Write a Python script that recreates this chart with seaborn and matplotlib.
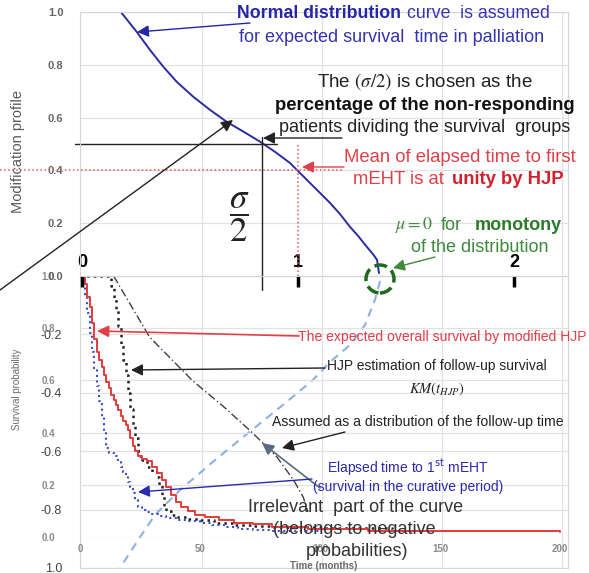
import numpy as np
import matplotlib
matplotlib.use("Agg")
import matplotlib.pyplot as plt
from matplotlib.patches import Ellipse, FancyArrowPatch
import seaborn as sns

sns.set_style("whitegrid")
plt.rcParams["font.family"] = ["Liberation Sans", "DejaVu Sans"]

W, H = 589, 573

# =======================================================================
# DATA
# =======================================================================
# top chart: modification profile, x in units of the mean (1 unit ~ 90 months)
MONTHS_PER_UNIT = 90
normal_x = [0.18, 0.253, 0.315, 0.376, 0.438, 0.515, 0.593, 0.670, 0.747, 0.824, 0.894,
            0.963, 1.056, 1.148, 1.194, 1.241, 1.278, 1.319, 1.347, 1.366, 1.375]
normal_y = [1.0, 0.925, 0.856, 0.793, 0.736, 0.679, 0.629, 0.584, 0.547, 0.509, 0.47,
            0.428, 0.352, 0.277, 0.235, 0.186, 0.152, 0.110, 0.083, 0.061, 0.011]

# continuation of the curve below zero (negative probabilities)
neg_x = [1.380, 1.356, 1.310, 1.241, 1.148, 1.069, 0.958, 0.787, 0.616, 0.454, 0.338, 0.269, 0.176]
neg_y = [-0.017, -0.082, -0.168, -0.236, -0.295, -0.356, -0.425, -0.527, -0.630, -0.733, -0.818, -0.894, -1.0]

top_xticks = [0, 1, 2]
top_yticks = [0.0, 0.2, 0.4, 0.6, 0.8, 1.0]
neg_yticks = [-1.0, -0.8, -0.6, -0.4, -0.2]
neg_ylabels = ["1.0", "-0.8", "-0.6", "-0.4", "-0.2"]
grid_months = [50, 100, 150, 200]

SIGMA_HALF_X = 0.835
SIGMA_HALF_Y = 0.5
SIGMA_LINE_X = [-0.032, 0.903]
MEAN_X = 1.0
MEAN_Y = 0.4
MEAN_LINE_X = [-0.38, 1.21]

# bottom chart: survival curves (months, probability)
os_t = [0, 2, 3, 4, 5, 6, 7, 8, 9, 10, 11, 12, 13, 14, 15, 16, 17, 18, 19, 20, 21, 22, 23, 24,
        26, 28, 30, 32, 34, 36, 38, 40, 42, 45, 48, 52, 58, 64, 72, 80, 95, 120, 200]
os_s = [1.0, 0.97, 0.92, 0.88, 0.82, 0.76, 0.71, 0.68, 0.65, 0.62, 0.595, 0.57, 0.545, 0.525,
        0.505, 0.485, 0.465, 0.445, 0.43, 0.41, 0.38, 0.35, 0.33, 0.31, 0.30, 0.29, 0.27, 0.245,
        0.22, 0.19, 0.16, 0.135, 0.115, 0.10, 0.085, 0.075, 0.065, 0.055, 0.048, 0.04, 0.03,
        0.022, 0.02]

meht_t = [0, 1, 2, 3, 4, 5, 6, 7, 8, 9, 10, 11, 12, 14, 15, 16, 17, 18, 19, 20, 21, 22, 23, 24,
          26, 28, 30, 33, 36, 40, 45, 50, 55, 60, 66, 72, 80, 100]
meht_s = [1.0, 0.97, 0.92, 0.86, 0.78, 0.71, 0.64, 0.58, 0.52, 0.46, 0.40, 0.34, 0.32, 0.315,
          0.31, 0.29, 0.27, 0.25, 0.235, 0.21, 0.19, 0.17, 0.14, 0.115, 0.105, 0.095, 0.088,
          0.08, 0.073, 0.066, 0.06, 0.054, 0.045, 0.038, 0.032, 0.027, 0.022, 0.02]

hjp_t = [0, 12, 13, 14, 15, 16, 17, 18, 19, 20, 21, 22, 23, 24, 25, 26,
         28, 30, 32, 33, 34, 35, 36, 38, 40, 44, 50, 56, 64, 72, 80, 100, 130]
hjp_s = [1.0, 1.0, 0.96, 0.91, 0.87, 0.81, 0.74, 0.68, 0.62, 0.55, 0.49, 0.43, 0.38, 0.33, 0.31,
         0.295, 0.27, 0.25, 0.23, 0.2, 0.16, 0.115, 0.10, 0.085, 0.077, 0.07, 0.065, 0.055,
         0.046, 0.042, 0.04, 0.035, 0.03]

follow_t = [14, 29, 47, 60, 72, 82, 89, 93, 95]
follow_s = [1.0, 0.766, 0.598, 0.498, 0.398, 0.307, 0.218, 0.153, 0.096]

surv_ticks = [0.0, 0.2, 0.4, 0.6, 0.8, 1.0]
time_ticks = [0, 50, 100, 150, 200]

# =======================================================================
# FIGURE / AXES (positions in pixels of the 589x573 picture)
# =======================================================================
fig = plt.figure(figsize=(W / 100, H / 100), dpi=100)
fig.patch.set_facecolor("white")


def box(left, top, right, bottom):
    return [left / W, 1 - bottom / H, (right - left) / W, (bottom - top) / H]


def fp(px, py):
    return (px / W, 1 - py / H)


ax_neg = fig.add_axes(box(80, 276, 568, 568))
ax_surv = fig.add_axes(box(80, 276, 568, 537))
ax_top = fig.add_axes(box(80, 12, 568, 276))
unit_lim = (-2 / 216, 486 / 216)
GRID_C = "#e2e2e2"

# --- top: modification profile ---
sns.lineplot(x=normal_x, y=normal_y, ax=ax_top, color="#2b2ba3", lw=1.4,
             sort=False, estimator=None)
ax_top.set_xlim(*unit_lim)
ax_top.set_ylim(0, 1)
ax_top.set_yticks(top_yticks)
ax_top.set_yticklabels([f"{v:.1f}" for v in top_yticks], fontsize=8,
                       fontweight="bold", color="#666666")
ax_top.set_xticks(top_xticks)
ax_top.set_xticklabels([str(v) for v in top_xticks], fontsize=13,
                       fontweight="bold", color="black")
ax_top.set_xticks(np.array(grid_months) / MONTHS_PER_UNIT, minor=True)
ax_top.tick_params(axis="y", length=0, pad=12)
ax_top.tick_params(axis="x", which="major", bottom=True, direction="out",
                   length=8, width=2.5, color="black", pad=-24)
ax_top.tick_params(axis="x", which="minor", length=0)
ax_top.xaxis.grid(False, which="major")
ax_top.xaxis.grid(True, which="minor", color=GRID_C, lw=0.9)
ax_top.yaxis.grid(True, color=GRID_C, lw=0.9)
ax_top.set_ylabel("Modification profile", fontsize=10.5, color="#595959")
ax_top.yaxis.set_label_coords(-55 / 488, 0.47)
for s in ax_top.spines.values():
    s.set_color("#d5d5d5")
ax_top.set_facecolor("white")

# sigma/2 guide lines and the mean guide lines
ax_top.plot(SIGMA_LINE_X, [SIGMA_HALF_Y] * 2, color="#222222", lw=1, clip_on=False)
ax_top.plot([SIGMA_HALF_X] * 2, [SIGMA_HALF_Y + 0.025, -0.053], color="#222222",
            lw=1, clip_on=False)
ax_top.plot(MEAN_LINE_X, [MEAN_Y] * 2, color="#e05a5a", ls=":", lw=1.1, clip_on=False)
ax_top.plot([MEAN_X] * 2, [0, SIGMA_HALF_Y], color="#e05a5a", ls=":", lw=1.1)

# --- lower part: negative extension of the profile axis ---
sns.lineplot(x=neg_x, y=neg_y, ax=ax_neg, color="#8fb0e0", lw=1.5,
             sort=False, estimator=None)
ax_neg.lines[-1].set_dashes((4, 3))
ax_neg.set_xlim(*unit_lim)
ax_neg.set_ylim(-1, 0)
ax_neg.set_yticks(neg_yticks)
ax_neg.set_yticklabels(neg_ylabels, fontsize=9, color="#404040")
ax_neg.set_xticks([])
ax_neg.set_xticks(np.array(grid_months) / MONTHS_PER_UNIT, minor=True)
ax_neg.tick_params(axis="y", length=0, pad=13)
ax_neg.tick_params(axis="x", which="minor", length=0)
ax_neg.xaxis.grid(True, which="minor", color=GRID_C, lw=0.9)
ax_neg.yaxis.grid(True, color=GRID_C, lw=0.9)
for s in ax_neg.spines.values():
    s.set_color("#d5d5d5")

# --- survival chart ---
ax_surv.set_facecolor("none")
sns.lineplot(x=follow_t, y=follow_s, ax=ax_surv, color="#404040", lw=1,
             sort=False, estimator=None)
ax_surv.lines[-1].set_dashes((6, 2, 1, 2))
sns.lineplot(x=hjp_t, y=hjp_s, ax=ax_surv, color="#222222", lw=1.8,
             sort=False, estimator=None, drawstyle="steps-post")
ax_surv.lines[-1].set_linestyle(":")
sns.lineplot(x=meht_t, y=meht_s, ax=ax_surv, color="#3a4fc4", lw=1.5,
             sort=False, estimator=None, drawstyle="steps-post")
ax_surv.lines[-1].set_linestyle(":")
sns.lineplot(x=os_t, y=os_s, ax=ax_surv, color="#e53a3a", lw=1.4,
             sort=False, estimator=None, drawstyle="steps-post")
ax_surv.set_xlim(0, 488 / 2.4)
ax_surv.set_ylim(0, 1)
ax_surv.set_yticks(surv_ticks)
ax_surv.set_yticklabels([f"{v:.1f}" for v in surv_ticks], fontsize=7,
                        fontweight="bold", color="#8a8a8a")
ax_surv.set_xticks(time_ticks)
ax_surv.set_xticklabels([str(v) for v in time_ticks], fontsize=7,
                        fontweight="bold", color="#8a8a8a")
ax_surv.tick_params(axis="y", length=0, pad=18)
ax_surv.tick_params(axis="x", length=0, pad=5)
ax_surv.xaxis.grid(False)
ax_surv.yaxis.grid(True, color=GRID_C, lw=0.9)
ax_surv.set_xlabel("Time (months)", fontsize=7, fontweight="bold", color="#6a6a6a",
                   labelpad=5)
ax_surv.set_ylabel("Survival probability", fontsize=7, color="#6a6a6a")
ax_surv.yaxis.set_label_coords(-58 / 488, 0.567)
for s in ax_surv.spines.values():
    s.set_visible(False)

# =======================================================================
# TEXTS AND ARROWS
# =======================================================================


def put(px, py, s, **kw):
    kw.setdefault("va", "center")
    kw.setdefault("fontsize", 13)
    fig.text(*fp(px, py), s, **kw)


def arrow(p0, p1, color, lw=1.0):
    fig.add_artist(FancyArrowPatch(
        fp(*p0), fp(*p1), transform=fig.transFigure,
        arrowstyle="-|>,head_length=5,head_width=2.5",
        color=color, lw=lw, mutation_scale=1.4, shrinkA=0, shrinkB=0))


BLUE = "#2626a8"
RED = "#e0404a"
GREEN = "#3d8a3d"

put(401, 14, "Normal distribution", ha="right", fontweight="bold", color=BLUE, fontsize=12.8)
put(407, 14, "curve  is assumed", ha="left", color="#3434b2", fontsize=12.8)
put(392, 37, "for expected survival  time in palliation", ha="center", color="#3434b2")
arrow((250, 23), (137, 32), BLUE)

put(425, 82, r"The $(\sigma/2)$ is chosen as the", ha="center", color="#222222",
    math_fontfamily="stix", fontsize=13.5)
put(425, 105, "percentage of the non-responding", ha="center", fontweight="bold",
    color="#111111", fontsize=13.3)
put(279, 128, "patients dividing the survival  groups", ha="left", color="#222222")
arrow((342, 138), (263, 138), "#222222")

put(460, 157, "Mean of elapsed time to first", ha="center", color=RED, fontsize=13.3)
put(449, 180, "mEHT is at ", ha="right", color=RED, fontsize=13.3)
put(452, 180, "unity by HJP", ha="left", fontweight="bold", color="#d4202a", fontsize=13.3)
arrow((344, 167), (302, 167), RED)

put(395, 225, r"$\mu = 0$", ha="left", color=GREEN, math_fontfamily="stix")
put(441, 225, "for", ha="left", color=GREEN)
put(562, 225, "monotony", ha="right", fontweight="bold", color="#2c7a2c")
put(480, 247, "of the distribution", ha="center", color=GREEN)
arrow((435, 257), (393, 268), GREEN)
fig.add_artist(Ellipse(fp(380, 279), 28 / W, 28 / H, transform=fig.transFigure,
                       fill=False, ec="#1f6b1f", lw=2.5, ls="--"))

put(239, 217, r"$\dfrac{\sigma}{2}$", ha="center", fontsize=25, color="#222222",
    math_fontfamily="stix")
arrow((0, 290), (233, 120), "#222222")

put(298, 337, "The expected overall survival by modified HJP", ha="left",
    fontsize=10.1, color=RED)
arrow((299, 336), (97, 331), RED, lw=1.2)
put(327, 366, "HJP estimation of follow-up survival", ha="left", fontsize=10,
    color="#222222")
arrow((325, 368), (131, 370), "#222222")
put(437, 389, r"$KM(t_{HJP})$", ha="center", fontsize=10.5, color="#222222",
    math_fontfamily="stix")
put(272, 422, "Assumed as a distribution of the follow-up time", ha="left",
    fontsize=10.1, color="#222222")
arrow((345, 432), (282, 448), "#222222")
arrow((320, 488), (262, 443), "#5a6a80", lw=1.2)
put(408, 468, r"Elapsed time to 1$^{\rm st}$ mEHT", ha="center", fontsize=10,
    color="#2a2ab0", math_fontfamily="dejavusans")
put(408, 487, "(survival in the curative period)", ha="center", fontsize=10,
    color="#2a2ab0")
arrow((312, 479), (138, 492), "#2a2ab0")
put(356, 508, "Irrelevant  part of the curve", ha="center", color="#333333")
put(354, 530, "(belongs to negative", ha="center", color="#333333")
put(357, 552, "probabilities)", ha="center", color="#333333")

fig.savefig("out.png", dpi=100)
